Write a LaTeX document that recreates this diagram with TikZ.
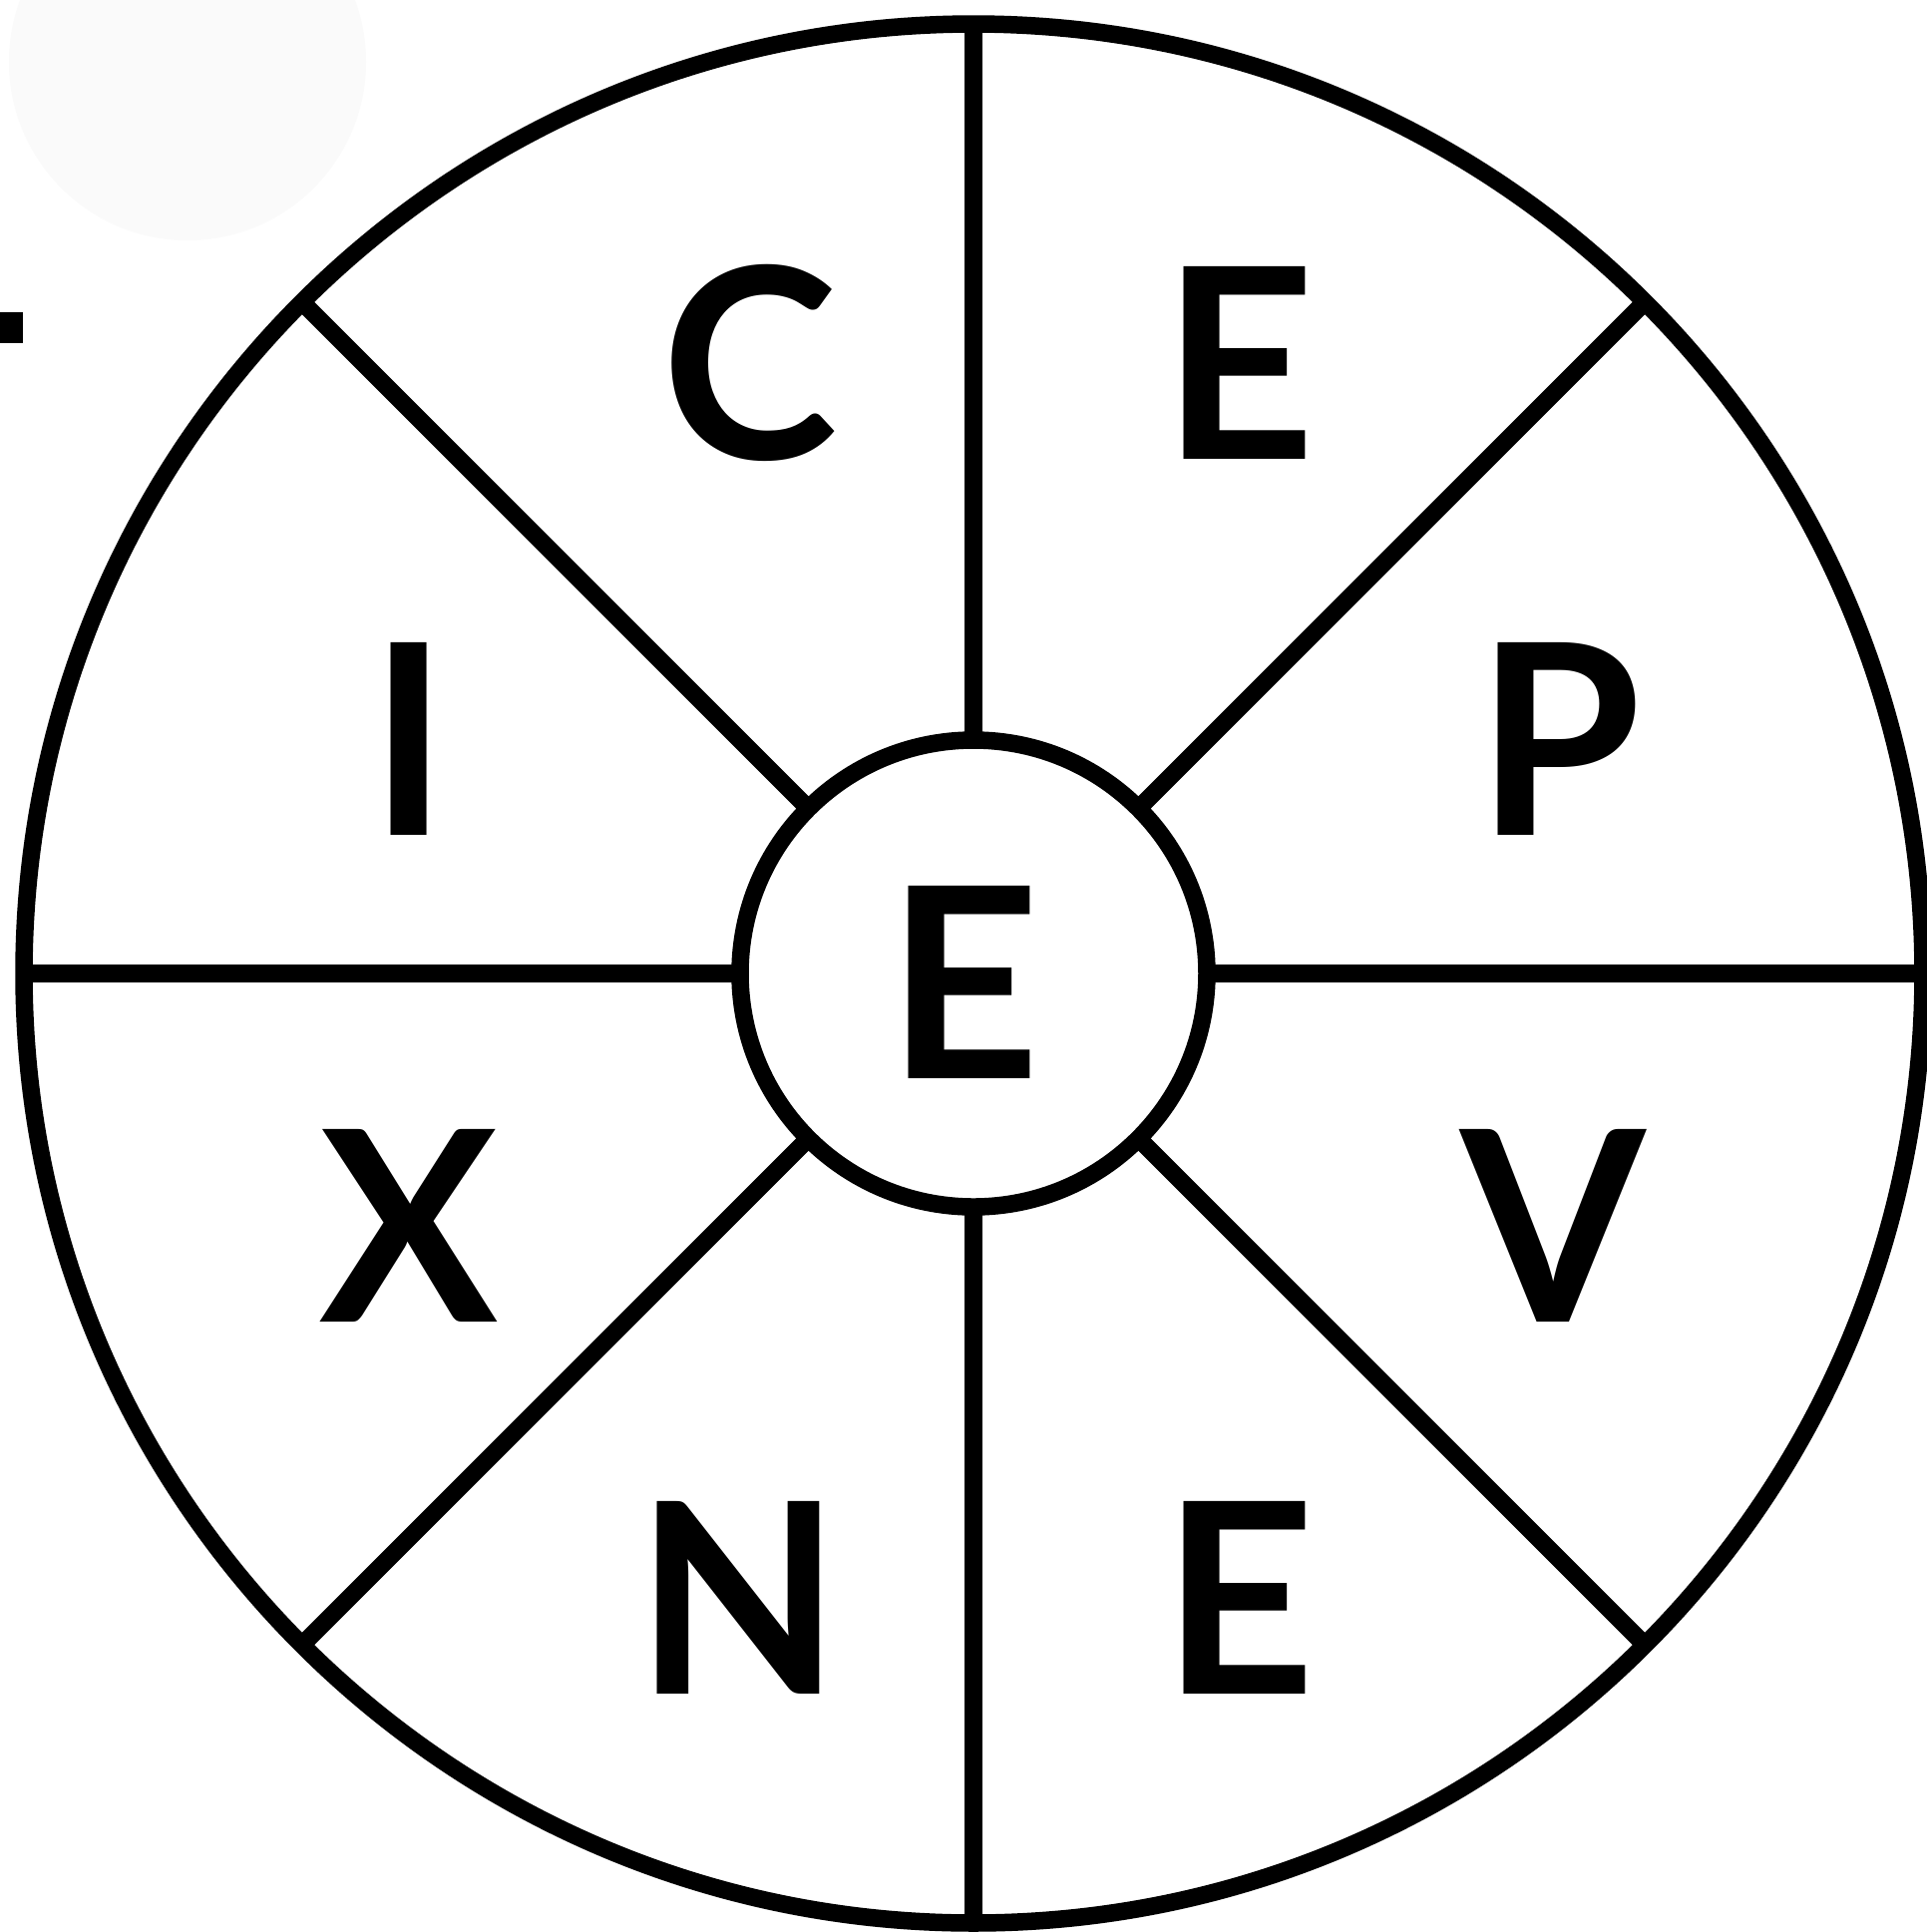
\documentclass[tikz,border=0pt]{standalone}
\usepackage{fontspec}
\newfontfamily\wheelfont{Lato}
\usepackage{xcolor}
\definecolor{cInk}{HTML}{000000}
\definecolor{cBlob}{HTML}{FAFAFA}
\usepackage{tikz}
\tikzset{
  wheel-ring/.style={draw=cInk,line width=1.75mm,circle,outer sep=0pt,inner sep=0pt},
  wheel-spoke/.style={draw=cInk,line width=1.75mm},
  wheel-letter/.style={inner sep=0pt,text=cInk,
    font=\wheelfont\bfseries\fontsize{76pt}{80pt}\selectfont},
}

\begin{document}
\begin{tikzpicture}[x=0.1mm,y=-0.1mm]
  \fill[white] (0,0) rectangle (1931,1937);
  \useasboundingbox (0,0) rectangle (1931,1937);
  % faint blob and edge mark
  \fill[cBlob] (188,62) circle[radius=17.9mm];
  \fill[cInk] (0,313) rectangle (23,344);
  \coordinate (c) at (976,976);
  \node[wheel-ring,minimum size=190.4mm] (rim) at (c) {};
  \node[wheel-ring,minimum size=46.8mm,fill=white] (hub) at (c) {};
  \foreach \a in {0,45,...,315}
    \draw[wheel-spoke] (hub.\a) -- (rim.\a);
  \foreach \name/\x/\y/\t in {c/752/364/C, e-top/1242/364/E, i/410/741/I,
      p/1563/741/P, x/410/1229/X, v/1557/1229/V, n/740/1602/N,
      e-bottom/1242/1602/E, e-hub/966/985/E} {
    \node[wheel-letter] (letter-\name) at (\x,\y) {\t};
  }
\end{tikzpicture}
\end{document}
